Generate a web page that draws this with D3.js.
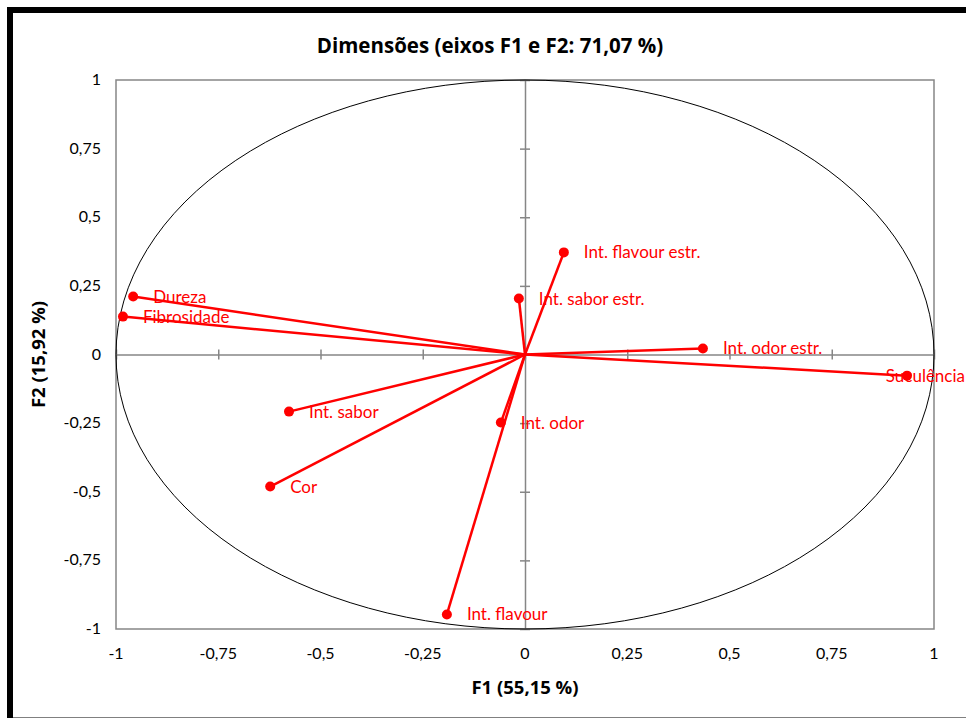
<!DOCTYPE html>
<html>
<head>
<meta charset="utf-8">
<script src="https://cdn.jsdelivr.net/npm/d3@7"></script>
<style>
  body { margin: 0; background: #fff; }
  text { font-family: Lato, "Open Sans", sans-serif; }
  .ttl { font-family: "Open Sans", Lato, sans-serif; font-weight: bold; }
</style>
</head>
<body>
<div id="chart"></div>
<script>
// variables (loadings on F1 / F2)
var names = ["Dureza", "Fibrosidade", "Int. flavour estr.", "Int. sabor estr.", "Int. odor estr.",
             "Suculência", "Int. sabor", "Int. odor", "Cor", "Int. flavour"]
var f1 = [-0.958, -0.983, 0.095, -0.015, 0.435, 0.934, -0.577, -0.059, -0.623, -0.191]
var f2 = [0.211, 0.138, 0.372, 0.204, 0.022, -0.077, -0.208, -0.248, -0.481, -0.947]
var ticks = [-1, -0.75, -0.5, -0.25, 0, 0.25, 0.5, 0.75, 1]

var width = 966, height = 718
var pLeft = 116, pRight = 934, pTop = 80, pBottom = 629

var svg = d3.select("#chart").append("svg")
  .attr("width", width)
  .attr("height", height)

// outer frame
svg.append("path")
  .attr("d", "M10,718 L10,10 L970,10")
  .attr("fill", "none")
  .attr("stroke", "#000")
  .attr("stroke-width", 6)
svg.append("line")
  .attr("x1", 13).attr("x2", 966).attr("y1", 717.5).attr("y2", 717.5)
  .attr("stroke", "#808080").attr("stroke-width", 1)

var x = d3.scaleLinear().domain([-1, 1]).range([pLeft, pRight])
var y = d3.scaleLinear().domain([-1, 1]).range([pBottom, pTop])

var fmt = function(d) { return String(d).replace(".", ",") }

// plot border
svg.append("rect")
  .attr("x", pLeft).attr("y", pTop)
  .attr("width", pRight - pLeft).attr("height", pBottom - pTop)
  .attr("fill", "none")
  .attr("stroke", "#868686")
  .attr("stroke-width", 1.5)

// zero axes with crossing ticks
var xAxis = svg.append("g")
  .attr("transform", "translate(0," + y(0) + ")")
  .call(d3.axisBottom(x).tickValues(ticks).tickSize(0).tickFormat(""))
xAxis.select(".domain").attr("stroke", "#868686").attr("stroke-width", 1.5)
xAxis.selectAll(".tick line").attr("y1", -5).attr("y2", 5)
  .attr("stroke", "#868686").attr("stroke-width", 1.5)

var yAxis = svg.append("g")
  .attr("transform", "translate(" + x(0) + ",0)")
  .call(d3.axisLeft(y).tickValues(ticks).tickSize(0).tickFormat(""))
yAxis.select(".domain").attr("stroke", "#868686").attr("stroke-width", 1.5)
yAxis.selectAll(".tick line").attr("x1", -5).attr("x2", 5)
  .attr("stroke", "#868686").attr("stroke-width", 1.5)

// tick labels along the plot border
svg.append("g").selectAll("text")
  .data(ticks)
  .enter()
  .append("text")
  .attr("x", function(d) { return x(d) })
  .attr("y", pBottom + 30)
  .attr("text-anchor", "middle")
  .attr("font-size", 16)
  .text(fmt)

svg.append("g").selectAll("text")
  .data(ticks)
  .enter()
  .append("text")
  .attr("x", pLeft - 15)
  .attr("y", function(d) { return y(d) + 5 })
  .attr("text-anchor", "end")
  .attr("font-size", 16)
  .text(fmt)

// correlation circle
svg.append("ellipse")
  .attr("cx", x(0)).attr("cy", y(0))
  .attr("rx", x(1) - x(0)).attr("ry", y(0) - y(1))
  .attr("fill", "none")
  .attr("stroke", "#000")
  .attr("stroke-width", 1)

// vectors
var idx = d3.range(names.length)
svg.append("g").selectAll("line")
  .data(idx)
  .enter()
  .append("line")
  .attr("x1", x(0)).attr("y1", y(0))
  .attr("x2", function(i) { return x(f1[i]) })
  .attr("y2", function(i) { return y(f2[i]) })
  .attr("stroke", "#ff0000")
  .attr("stroke-width", 2.5)

svg.append("g").selectAll("circle")
  .data(idx)
  .enter()
  .append("circle")
  .attr("cx", function(i) { return x(f1[i]) })
  .attr("cy", function(i) { return y(f2[i]) })
  .attr("r", 5)
  .attr("fill", "#ff0000")

svg.append("g").selectAll("text")
  .data(idx)
  .enter()
  .append("text")
  .attr("x", function(i) { return x(f1[i]) + 20 })
  .attr("y", function(i) { return y(f2[i]) + 6 })
  .attr("font-size", 17)
  .attr("fill", "#ff0000")
  .text(function(i) { return names[i] })
  .each(function(i) {
    // labels that would run off the right edge are pulled back inside
    var w = this.getComputedTextLength()
    var lx = x(f1[i]) + 20
    if (lx + w > width - 1) d3.select(this).attr("x", width - 1 - w)
  })

// titles
svg.append("text")
  .attr("class", "ttl")
  .attr("x", 490).attr("y", 53)
  .attr("text-anchor", "middle")
  .attr("font-size", 20.5)
  .text("Dimensões (eixos F1 e F2: 71,07 %)")

svg.append("text")
  .attr("class", "ttl")
  .attr("x", (pLeft + pRight) / 2).attr("y", 694)
  .attr("text-anchor", "middle")
  .attr("font-size", 18.5)
  .text("F1 (55,15 %)")

svg.append("text")
  .attr("class", "ttl")
  .attr("transform", "translate(45," + ((pTop + pBottom) / 2) + ") rotate(-90)")
  .attr("text-anchor", "middle")
  .attr("font-size", 18.5)
  .text("F2 (15,92 %)")
</script>
</body>
</html>
